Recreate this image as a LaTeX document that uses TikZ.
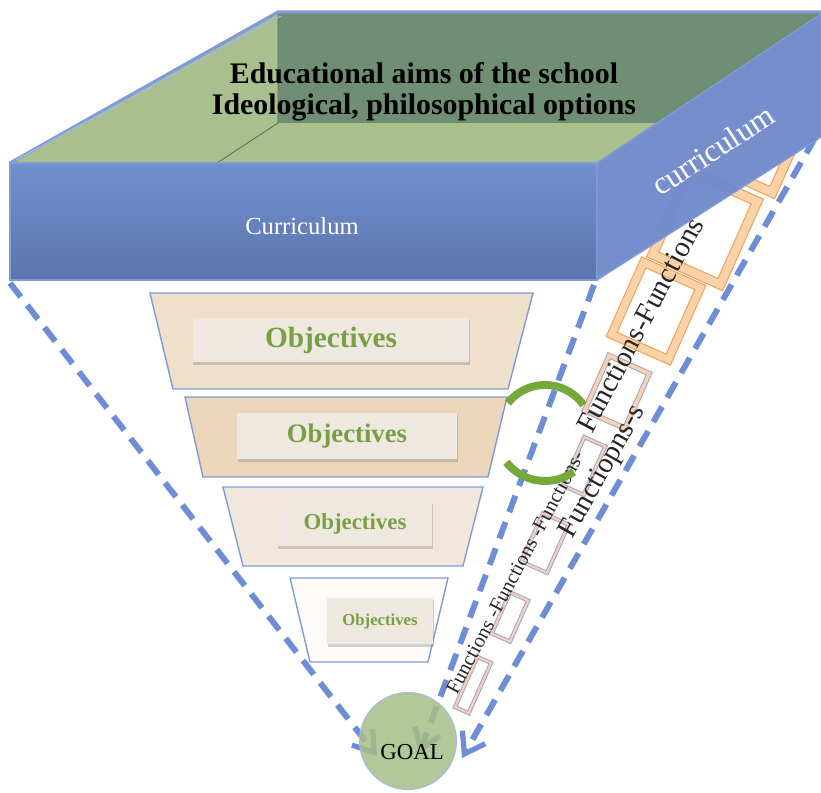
\documentclass[tikz,border=0pt]{standalone}
\usepackage{fontspec}
\setmainfont{Liberation Serif}
\usetikzlibrary{arrows.meta,shadows}
\definecolor{rimblue}{HTML}{7F9BD8}
\definecolor{dashblue}{HTML}{6F8DD4}
\definecolor{frontblue}{HTML}{6C89CC}
\definecolor{sideblue}{HTML}{7189CB}
\definecolor{floorgreen}{HTML}{A9BF8D}
\definecolor{wallgreen}{HTML}{6F8E73}
\definecolor{peachA}{HTML}{F0DFCB}
\definecolor{peachB}{HTML}{ECD6BB}
\definecolor{peachC}{HTML}{F1E7DB}
\definecolor{peachD}{HTML}{FDFAF7}
\definecolor{objfill}{HTML}{EEE8E1}
\definecolor{objgreen}{HTML}{77A042}
\definecolor{goalgreen}{HTML}{A6BE86}
\definecolor{arcgreen}{HTML}{76A83A}
\definecolor{frameorange}{HTML}{F0A45E}
\definecolor{framefill}{HTML}{FAD2A8}
\definecolor{lilac}{HTML}{9EA7DC}

\begin{document}
\begin{tikzpicture}[x=0.02cm, y=-0.02cm,
	dashline/.style = {draw=dashblue, line width=3.4pt, dash pattern=on 10pt off 6pt, -{Straight Barb[length=11pt,width=15pt,line width=3pt]}},
	tier/.style = {draw=rimblue, line width=0.8pt},
	objbox/.style = {fill=objfill, inner sep=0pt, text=objgreen, drop shadow={shadow xshift=0.4pt, shadow yshift=-1.6pt, opacity=0.35}},
	oframe/.style = {draw=frameorange, double=framefill, line width=0.7pt, rotate=-24, inner sep=0pt},
	lframe/.style = {draw=lilac, double=framefill, line width=0.6pt, double distance=1.2pt, rotate=-24, inner sep=0pt},
	fun/.style = {rotate=62, inner sep=0pt, text=black!85}]
	\useasboundingbox (0,0) rectangle (821,793);

	\coordinate (boxL) at (10,283);
	\coordinate (boxM) at (594,285);
	\coordinate (boxR) at (815,138);
	\coordinate (tipL) at (377,756);
	\coordinate (tipM) at (419,754);
	\coordinate (tipR) at (462,758);

	\draw[dashline] (boxL) -- (tipL);
	\draw[dashline] (boxM) -- (tipM);
	\draw[dashline] (boxR) -- (tipR);

	\begin{scope}
		\clip (597,280) -- (821,137) -- (821,793) -- (597,793) -- cycle;
		\node[oframe, double distance=4.5pt, minimum width=1.48cm, minimum height=1.82cm] (fa) at (757,136) {};
	\end{scope}
	\node[oframe, double distance=4.5pt, minimum width=1.48cm, minimum height=1.82cm] (fb) at (705,228) {};
	\node[oframe, double distance=4pt, minimum width=1.24cm, minimum height=1.58cm] (fc) at (656,311) {};
	\node[lframe, double distance=2pt, minimum width=0.88cm, minimum height=1.2cm] (fd) at (617,392) {};
	\node[lframe, minimum width=0.46cm, minimum height=1.06cm] (fe) at (584,466) {};
	\node[lframe, minimum width=0.56cm, minimum height=1.06cm] (ff) at (545,543) {};
	\node[lframe, minimum width=0.4cm, minimum height=0.9cm] (fg) at (510,617) {};
	\node[lframe, minimum width=0.3cm, minimum height=1.1cm] (fh) at (473,685) {};

	\node[fun, font=\fontsize{11.6}{12}\selectfont] (funa) at (515,572) {Functions -Functions -Functions-};
	\node[fun, font=\fontsize{16.5}{17}\selectfont] (funb) at (640,325) {Functions-Functions};
	\node[fun, rotate=-1.5, font=\fontsize{16.3}{17}\selectfont] (func) at (603,472) {Functiopns-s};

	\fill[peachA, tier] (150,293) -- (533,293) -- (508,389) -- (173,389) -- cycle;
	\fill[peachB, tier] (185,397) -- (507,397) -- (488,477) -- (203,477) -- cycle;
	\fill[peachC, tier] (223,487) -- (483,487) -- (463,566) -- (243,566) -- cycle;
	\fill[peachD, tier] (290,578) -- (448,578) -- (428,662) -- (310,662) -- cycle;

	\node[objbox, minimum width=5.54cm, minimum height=0.9cm, font=\bfseries\fontsize{16.7}{17}\selectfont] (obja) at (331,340) {Objectives};
	\node[objbox, minimum width=4.4cm, minimum height=0.94cm, font=\bfseries\fontsize{15.2}{16}\selectfont] (objb) at (347,436) {Objectives};
	\node[objbox, minimum width=3.1cm, minimum height=0.9cm, font=\bfseries\fontsize{13}{14}\selectfont] (objc) at (355,524) {Objectives};
	\node[objbox, minimum width=2.12cm, minimum height=0.94cm, font=\bfseries\fontsize{9.5}{10}\selectfont] (objd) at (380,621) {Objectives};

	\fill[floorgreen] (10,163) -- (278,12) -- (821,12) -- (597,163) -- cycle;
	\fill[wallgreen] (278,12) -- (821,12) -- (821,16) -- (657,123) -- (278,123) -- cycle;
	\draw[wallgreen!80!black, line width=0.5pt] (278,12) -- (278,123) -- (217,163);
	\draw[rimblue, line width=1.8pt] (10,163) -- (278,12) -- (821,12);
	\draw[rimblue!70, line width=0.6pt] (16,160) -- (281,16);
	\node[font=\bfseries\fontsize{17}{17.6}\selectfont, align=center, inner sep=0pt] (aims) at (424,92) {Educational aims of the school\\Ideological, philosophical options};

	\shade[top color=frontblue!95!white, bottom color=frontblue!85!black, draw=rimblue, line width=0.8pt] (10,163) rectangle (597,280);
	\node[text=white, font=\fontsize{14}{15}\selectfont] (front) at (302,226) {Curriculum};
	\fill[sideblue, fill opacity=0.96, draw=rimblue, line width=0.8pt] (597,163) -- (821,14) -- (821,137) -- (597,280) -- cycle;
	\node[text=white, rotate=33, font=\fontsize{18}{19}\selectfont] (side) at (713,150) {curriculum};

	\node[circle, fill=goalgreen, fill opacity=0.85, draw=rimblue!70, line width=0.6pt, minimum size=1.94cm] (goal) at (408,741) {};
	\node[font=\fontsize{13}{14}\selectfont] (goaltext) at (412,752) {GOAL};

	\coordinate (loop) at (545,432);
	\draw[arcgreen, line width=4.5pt] ([shift={(218:47)}]loop) arc[start angle=218, end angle=325, radius=47];
	\draw[arcgreen, line width=4.5pt] ([shift={(142:49)}]loop) arc[start angle=142, end angle=54, radius=49];
\end{tikzpicture}
\end{document}
